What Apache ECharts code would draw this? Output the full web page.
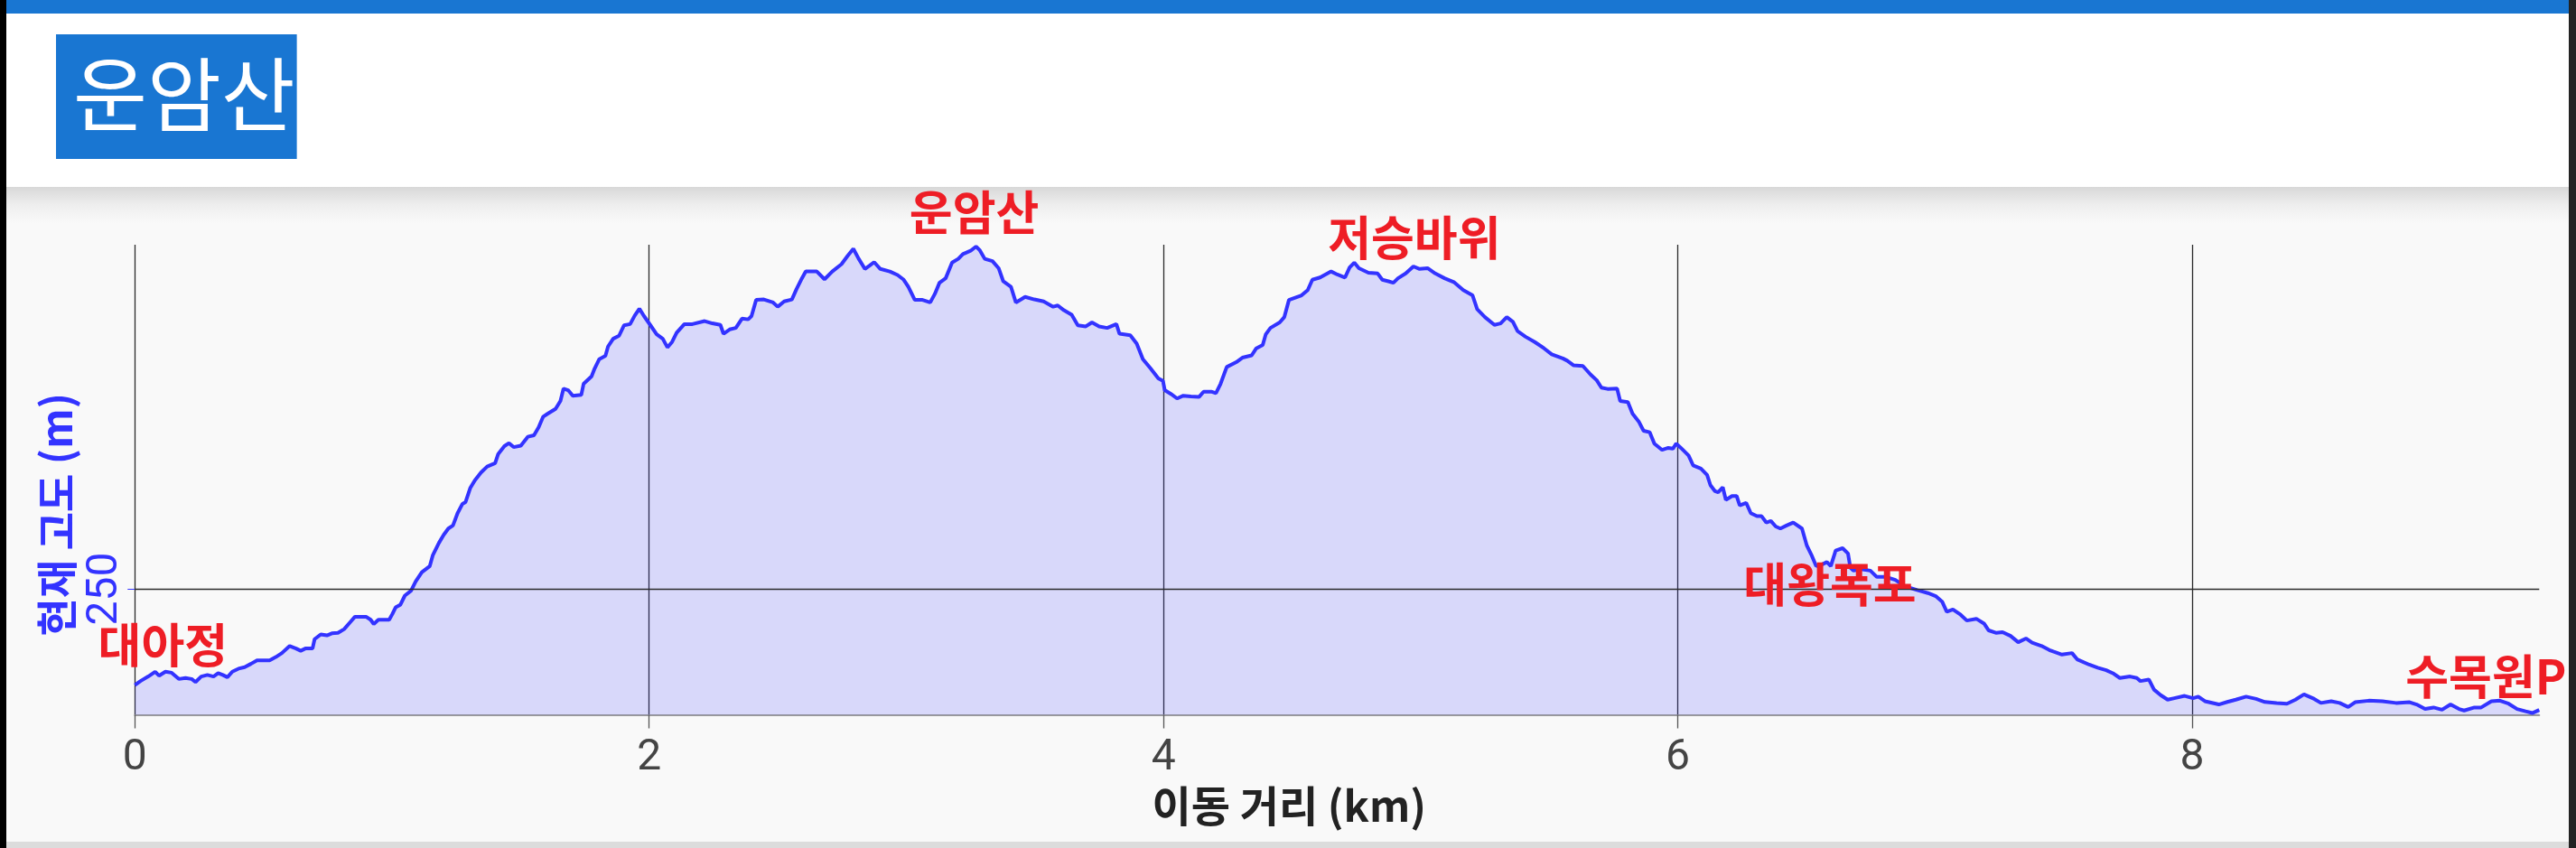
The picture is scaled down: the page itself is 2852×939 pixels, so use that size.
<!DOCTYPE html>
<html><head><meta charset="utf-8">
<script src="https://cdn.jsdelivr.net/npm/echarts@6/dist/echarts.min.js"></script>
<style>html,body{margin:0;padding:0;background:#f9f9f9;overflow:hidden}#c{width:2852px;height:939px}</style>
</head><body><div id="c"></div>
<script>
// ---- data ----
const distanceKm = [
0.000,0.022,0.052,0.079,0.094,0.119,0.143,0.171,0.197,0.221,0.236,0.258,0.282,0.306,0.324,0.342,0.360,0.379,0.403,0.427,
0.451,0.475,0.500,0.524,0.548,0.572,0.602,0.627,0.645,0.663,0.691,0.699,0.723,0.747,0.766,0.790,0.814,0.838,0.856,0.899,
0.917,0.929,0.947,0.989,1.001,1.014,1.032,1.050,1.074,1.092,1.116,1.147,1.159,1.183,1.201,1.219,1.237,1.255,1.274,1.286,
1.304,1.322,1.346,1.370,1.401,1.413,1.437,1.455,1.473,1.501,1.528,1.552,1.570,1.588,1.606,1.636,1.655,1.667,1.685,1.703,
1.736,1.745,1.776,1.788,1.806,1.830,1.840,1.860,
1.883,1.902,1.926,1.944,1.962,1.980,2.004,2.029,2.053,2.071,2.089,2.107,2.137,2.168,2.216,2.246,2.277,2.289,2.313,2.337,
2.361,2.385,2.398,2.416,2.446,2.482,2.500,2.525,2.555,2.573,2.591,2.609,2.652,2.682,2.712,2.748,2.772,2.794,2.815,2.839,
2.857,2.875,2.899,2.936,2.966,2.990,3.008,3.033,3.063,3.093,3.111,3.129,3.153,3.178,3.202,3.220,3.250,3.271,3.286,3.305,
3.335,3.359,3.377,3.407,3.426,3.462,3.498,3.534,3.571,3.589,3.613,3.643,3.667,3.698,3.722,
3.750,3.781,3.817,3.829,3.871,3.896,3.920,3.950,3.980,3.998,4.005,4.029,4.053,4.077,4.107,4.138,4.156,4.186,4.204,4.222,
4.246,4.283,4.307,4.343,4.361,4.386,4.398,4.416,4.452,4.470,4.488,4.537,4.561,4.579,4.609,4.652,4.676,4.706,4.724,4.742,
4.760,4.797,4.833,4.851,4.875,4.894,4.912,4.942,4.972,4.996,5.027,5.057,5.093,5.129,5.166,5.202,5.220,5.250,5.287,5.311,
5.335,5.359,5.377,5.408,5.444,5.480,5.510,5.553,
5.570,5.594,5.631,5.661,5.685,5.703,5.727,5.764,5.776,5.806,5.824,5.848,5.867,5.891,5.909,5.939,5.963,5.981,5.994,6.012,
6.042,6.060,6.090,6.114,6.127,6.145,6.157,6.175,6.187,6.211,6.229,6.241,6.266,6.284,6.308,6.326,6.344,6.362,6.381,6.399,
6.423,6.449,6.483,6.502,6.520,6.538,6.562,6.580,6.595,6.614,6.641,6.662,6.671,6.683,6.713,6.749,6.774,6.810,6.846,6.883,
6.931,6.973,7.003,7.028,7.046,7.070,7.100,7.124,7.161,7.191,7.209,7.239,7.263,7.294,7.324,7.354,7.378,7.415,7.445,
7.460,7.494,7.533,7.553,7.600,7.633,7.666,7.692,7.719,7.759,7.785,7.799,7.832,7.852,7.878,7.905,7.931,7.971,8.004,8.024,
8.050,8.104,8.137,8.170,8.210,8.249,8.283,8.329,8.369,8.402,8.435,8.475,8.501,8.541,8.574,8.607,8.634,8.687,8.740,8.793,
8.846,8.873,8.906,8.939,8.972,9.005,9.038,9.058,9.098,9.124,9.164,9.197,9.231,9.264,9.297,9.323,9.350
];
const elevationM = [
211.8,213.4,215.2,217.1,215.5,217.1,216.7,214.2,214.6,214.2,213.0,215.2,215.8,215.2,216.5,215.8,214.9,217.1,218.3,218.9,
220.2,221.6,221.6,221.6,222.9,224.5,227.3,226.3,225.4,226.3,226.3,230.0,231.9,231.5,232.3,232.5,234.0,236.8,238.9,238.9,
237.7,236.0,237.7,237.7,239.9,242.6,243.6,247.3,249.2,252.9,256.6,259.0,263.4,268.3,271.4,273.9,275.1,280.0,283.7,284.4,
289.9,293.0,296.1,298.5,299.8,303.5,306.6,307.8,306.2,306.8,310.3,310.9,314.0,318.3,319.5,321.4,324.5,329.4,328.8,326.6,
326.9,331.3,334.3,337.4,341.1,342.4,346.1,349.2,
350.4,354.5,355.0,358.4,361.1,358.2,354.7,351.0,349.2,345.8,347.9,351.6,355.0,355.0,356.2,355.3,354.7,351.2,352.9,353.5,
357.2,356.9,358.2,364.6,364.8,363.6,361.9,364.0,364.8,368.9,372.6,375.9,375.9,372.8,375.9,378.8,382.1,384.9,380.9,376.9,
378.2,379.6,376.9,375.9,374.5,372.6,369.8,364.6,364.6,363.6,367.0,371.4,373.2,379.4,380.9,382.8,384.1,385.8,384.3,380.9,
380.0,377.2,372.0,369.8,363.6,365.8,364.8,364.0,361.9,362.4,360.5,358.7,354.5,354.1,355.7,
354.1,353.5,355.0,351.2,350.6,347.3,341.1,337.4,333.5,332.5,328.8,327.3,325.5,326.6,326.3,326.1,328.2,328.2,327.6,331.3,
338.0,339.9,341.7,342.6,345.4,346.7,351.0,353.5,355.7,357.8,364.6,366.4,368.5,372.6,373.5,375.9,374.7,373.5,377.5,379.4,
377.2,375.4,375.1,372.6,372.0,371.4,373.2,375.1,377.9,376.9,377.2,375.1,373.2,371.7,368.5,366.4,360.9,357.8,354.7,355.3,
357.8,355.9,352.2,350.0,347.9,345.4,343.0,341.4,
340.5,338.7,338.4,335.0,332.7,329.8,329.3,329.4,324.5,324.1,319.5,316.4,312.7,312.1,307.6,305.1,305.9,305.6,307.6,305.9,
302.9,298.9,297.7,295.2,291.1,288.7,288.3,290.3,285.3,286.8,286.8,283.1,284.1,280.0,278.8,278.8,276.3,276.9,274.7,273.9,
275.1,276.3,273.9,267.1,263.4,259.0,259.7,260.6,259.0,265.2,266.1,264.0,258.4,257.2,257.8,257.2,254.7,254.7,253.5,251.0,
249.5,248.3,247.1,244.9,240.9,241.8,239.7,237.4,238.1,236.2,233.5,232.5,232.8,231.3,228.8,230.3,228.6,227.3,225.7,
225.1,223.9,224.5,222.0,219.9,218.7,217.7,216.5,214.6,215.2,214.6,213.4,214.0,210.0,207.8,206.0,206.6,207.5,206.6,207.2,
205.4,204.1,205.1,206.0,207.2,206.3,205.1,204.7,204.4,206.0,208.1,206.3,204.7,205.4,204.7,203.1,205.0,205.6,205.4,204.7,
205.0,204.1,202.3,202.9,202.0,204.1,202.3,201.7,202.9,202.9,205.4,205.6,204.4,202.3,201.4,200.7,201.9
];
const xTickValues = [0, 2, 4, 6, 8];
const yTickValues = [250];
const waypointNames = ['대아정', '운암산', '저승바위', '대왕폭포', '수목원P'];
const waypointKm = [0, 3.271, 4.972, 6.641, 9.35];
const waypointElev = [211.8, 385.8, 377.9, 266.1, 201.9];
const titleText = '운암산';
const xAxisName = '이동 거리 (km)';
const yAxisName = '현재 고도 (m)';

// ---- styles ----
const labelOffsets = [[31, -44], [-2, -38], [1, -32], [-14, 40], [-59, -37]];
const KR = '"Noto Sans CJK KR", "Noto Sans", sans-serif';
const W = 2852, H = 939;

const lineData = distanceKm.map((d, i) => [d, elevationM[i]]);
const markData = waypointNames.map((n, i) => ({
  name: n,
  coord: [waypointKm[i], waypointElev[i]],
  label: { offset: labelOffsets[i] }
}));

const chart = echarts.init(document.getElementById('c'), null, { renderer: 'canvas', width: W, height: H });
chart.setOption({
  animation: false,
  backgroundColor: '#f9f9f9',
  graphic: { elements: [
    { type: 'rect', z: -10, shape: { x: 0, y: 0, width: 7, height: H }, style: { fill: '#000' } },
    { type: 'rect', z: -10, shape: { x: 2844, y: 0, width: 8, height: H }, style: { fill: '#222' } },
    { type: 'rect', z: -10, shape: { x: 7, y: 0, width: 2837, height: 15 }, style: { fill: '#1976d2' } },
    { type: 'rect', z: -10, shape: { x: 7, y: 15, width: 2837, height: 192 }, style: { fill: '#ffffff' } },
    { type: 'rect', z: -10, shape: { x: 7, y: 207, width: 2837, height: 40 },
      style: { fill: new echarts.graphic.LinearGradient(0, 0, 0, 1, [
        { offset: 0, color: '#d8d8d8' }, { offset: 0.5, color: '#eeeeee' }, { offset: 1, color: '#f9f9f9' }]) } },
    { type: 'rect', z: -10, shape: { x: 7, y: 932, width: 2837, height: 7 }, style: { fill: '#dcdcdc' } }
  ]},
  title: {
    text: titleText, left: 62, top: 38,
    backgroundColor: '#1976d2',
    padding: [22, 2, 27, 19],
    textStyle: { color: '#ffffff', fontSize: 89, lineHeight: 89, fontWeight: 'normal', fontFamily: KR }
  },
  grid: { left: 149.3, right: 40.7, top: 271, bottom: 147.5, containLabel: false, outerBoundsMode: 'none' },
  xAxis: {
    type: 'value', min: 0, max: 9.35, interval: 2,
    name: xAxisName, nameLocation: 'middle', nameGap: 74,
    nameTextStyle: { fontSize: 47, fontWeight: 'bold', color: '#222', fontFamily: KR, padding: [0, 106, 0, 0] },
    axisLine: { show: true, lineStyle: { color: '#9a9a9a', width: 2 } },
    axisTick: { show: true, length: 15, customValues: xTickValues, lineStyle: { color: '#555', width: 1.3 } },
    axisLabel: { show: true, customValues: xTickValues, margin: 24, fontSize: 48,
      color: '#444', fontFamily: 'Roboto, sans-serif' },
    splitLine: { show: true, lineStyle: { color: '#2a2a2a', width: 1.3 } }
  },
  yAxis: {
    type: 'value', min: 200, max: 386.5, interval: 50,
    name: yAxisName, nameLocation: 'middle', nameGap: 54, nameRotate: 90,
    nameTextStyle: { fontSize: 46, fontWeight: 'bold', color: '#3333ff', fontFamily: KR, padding: [0, 77, 0, 0] },
    axisLine: { show: false },
    axisTick: { show: true, length: 8, customValues: yTickValues, lineStyle: { color: '#3333ff', width: 1 } },
    axisLabel: { show: true, customValues: yTickValues, rotate: 90, margin: 8, fontSize: 48,
      color: '#3333ff', fontFamily: 'Roboto, sans-serif',
      formatter: v => (yTickValues.indexOf(v) >= 0 ? String(v) : '') },
    splitLine: { show: false }
  },
  series: [{
    type: 'line',
    data: lineData,
    showSymbol: false,
    symbol: 'none',
    sampling: 'none',
    lineStyle: { color: '#3333ff', width: 4 },
    itemStyle: { color: '#3333ff' },
    areaStyle: { color: 'rgba(51,51,255,0.24)', origin: 'start' },
    markLine: {
      silent: true, symbol: 'none', animation: false,
      label: { show: false },
      lineStyle: { color: '#2a2a2a', width: 1.3, type: 'solid' },
      data: yTickValues.map(v => ({ yAxis: v }))
    },
    markPoint: {
      symbol: 'circle', symbolSize: 1,
      itemStyle: { color: 'rgba(0,0,0,0)' },
      label: { show: true, position: 'inside', formatter: '{b}', color: '#ee1d25', fontSize: 52,
        fontWeight: 'bold', fontFamily: KR },
      data: markData
    }
  }]
});
</script></body></html>
